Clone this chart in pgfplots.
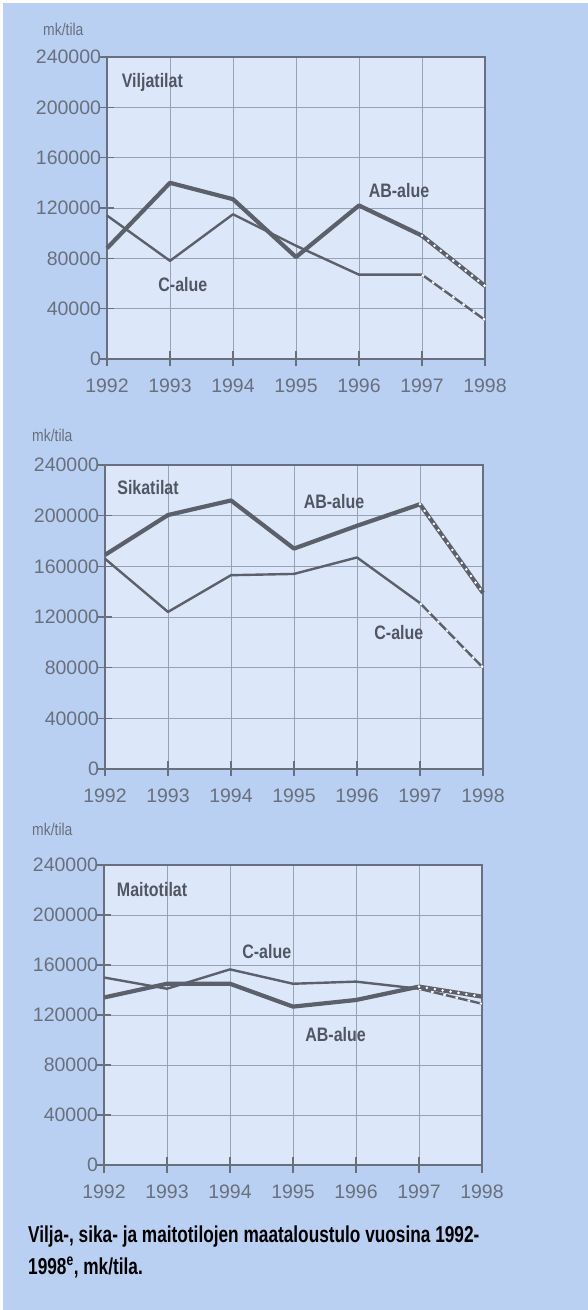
\documentclass[border=0pt]{standalone}
\usepackage{pgfplots}
\pgfplotsset{compat=1.18}
\usepackage{fontspec}
\setmainfont{Liberation Sans}
\newfontfamily\narrow[FakeStretch=0.82]{Liberation Sans}
\newfontfamily\narrowcap[FakeStretch=0.75]{Liberation Sans}
\definecolor{outerbg}{RGB}{186,208,242}
\definecolor{plotbg}{RGB}{220,232,250}
\definecolor{gridc}{RGB}{150,162,182}
\definecolor{axisc}{RGB}{105,112,125}
\definecolor{labc}{RGB}{104,112,126}
\definecolor{linec}{RGB}{92,96,106}
\definecolor{txtc}{RGB}{80,86,98}
\tikzset{lab/.style={font=\narrow\bfseries\fontsize{19.5}{20}\selectfont, text=txtc, anchor=west}}
\pgfplotsset{
  panel/.style={scale only axis, width=378pt, xmin=1992, xmax=1998, ymin=0, ymax=240000,
    xtick={1992,...,1998}, ytick={0,40000,...,240000}, grid=major,
    grid style={color=gridc, line width=0.7pt},
    axis line style={color=axisc, line width=1.2pt},
    tick style={color=axisc, line width=1.2pt},
    tick pos=left, tick align=center, major tick length=15pt,
    ticklabel style={font=\fontsize{19.5}{19.5}\selectfont, text=labc},
    /pgf/number format/fixed, /pgf/number format/precision=0,
    /pgf/number format/1000 sep={}, /pgf/number format/assume math mode=true,
    scaled y ticks=false, scaled x ticks=false,
    axis background/.style={fill=plotbg}, clip=false,
    xticklabel style={yshift=-9pt}, yticklabel style={xshift=5pt}},
  ab/.style={color=linec, line width=4.2pt, line join=round},
  cc/.style={color=linec, line width=2.4pt, line join=round},
  abd/.style={color=white, line width=2.8pt, line cap=round, dash pattern=on 0pt off 8pt},
  ccd/.style={color=white, line width=2pt, dash pattern=on 2.5pt off 10pt},
}
\begin{document}
\begin{tikzpicture}[x=1pt,y=1pt]
\fill[white] (0,0) rectangle (588,1310);
\fill[outerbg] (3,0) rectangle (588,1307);
\useasboundingbox (0,0) rectangle (588,1310);
% ---------- Panel 1: Viljatilat
\begin{axis}[panel, at={(107pt,951pt)}, anchor=south west, height=302pt]
\addplot[cc] coordinates {(1992,114000) (1993,78000) (1994,115000) (1995,90000) (1996,67000) (1997,67000)};
\addplot[cc] coordinates {(1997,67000) (1998,31000)};
\addplot[ccd] coordinates {(1997,67000) (1998,31000)};
\addplot[ab] coordinates {(1992,88000) (1993,140000) (1994,127000) (1995,81000) (1996,122000) (1997,98000)};
\addplot[ab] coordinates {(1997,98000) (1998,58000)};
\addplot[abd] coordinates {(1997,98000) (1998,58000)};
\node[lab] at (axis cs:1992.18,220000) {Viljatilat};
\node[lab] at (axis cs:1996.1,134000) {AB-alue};
\node[lab] at (axis cs:1992.76,59000) {C-alue};
\end{axis}
% ---------- Panel 2: Sikatilat
\begin{axis}[panel, at={(105pt,541pt)}, anchor=south west, height=304pt]
\addplot[cc] coordinates {(1992,166000) (1993,124000) (1994,153000) (1995,154000) (1996,167000) (1997,131000)};
\addplot[cc] coordinates {(1997,131000) (1998,80000)};
\addplot[ccd] coordinates {(1997,131000) (1998,80000)};
\addplot[ab] coordinates {(1992,169000) (1993,200500) (1994,212000) (1995,174000) (1996,192000) (1997,209000)};
\addplot[ab] coordinates {(1997,209000) (1998,139000)};
\addplot[abd] coordinates {(1997,209000) (1998,139000)};
\node[lab] at (axis cs:1992.14,222500) {Sikatilat};
\node[lab] at (axis cs:1995.1,211500) {AB-alue};
\node[lab] at (axis cs:1996.22,107500) {C-alue};
\end{axis}
% ---------- Panel 3: Maitotilat
\begin{axis}[panel, at={(104pt,145pt)}, anchor=south west, height=300pt]
\addplot[cc] coordinates {(1992,150000) (1993,141000) (1994,156500) (1995,145000) (1996,146700) (1997,141000)};
\addplot[cc] coordinates {(1997,141000) (1998,129000)};
\addplot[ccd] coordinates {(1997,141000) (1998,129000)};
\addplot[ab] coordinates {(1992,134000) (1993,145000) (1994,145000) (1995,126700) (1996,132000) (1997,142700)};
\addplot[ab] coordinates {(1997,142700) (1998,134700)};
\addplot[abd] coordinates {(1997,142700) (1998,134700)};
\node[lab] at (axis cs:1992.15,220000) {Maitotilat};
\node[lab] at (axis cs:1994.14,170500) {C-alue};
\node[lab] at (axis cs:1995.14,104000) {AB-alue};
\end{axis}
% ---------- unit labels
\node[anchor=west, inner sep=0pt, font=\narrow\fontsize{17}{17}\selectfont, text=labc] at (43,1281) {mk/tila};
\node[anchor=west, inner sep=0pt, font=\narrow\fontsize{17}{17}\selectfont, text=labc] at (32,875) {mk/tila};
\node[anchor=west, inner sep=0pt, font=\narrow\fontsize{17}{17}\selectfont, text=labc] at (32,481) {mk/tila};
% ---------- caption
\node[anchor=base west, inner sep=0pt, font=\narrowcap\bfseries\fontsize{23}{23}\selectfont, text=black] at (28,67) {Vilja-, sika- ja maitotilojen maataloustulo vuosina 1992-};
\node[anchor=base west, inner sep=0pt, font=\narrowcap\bfseries\fontsize{23}{23}\selectfont, text=black] at (28,35) {1998\textsuperscript{e}, mk/tila.};
\end{tikzpicture}
\end{document}
